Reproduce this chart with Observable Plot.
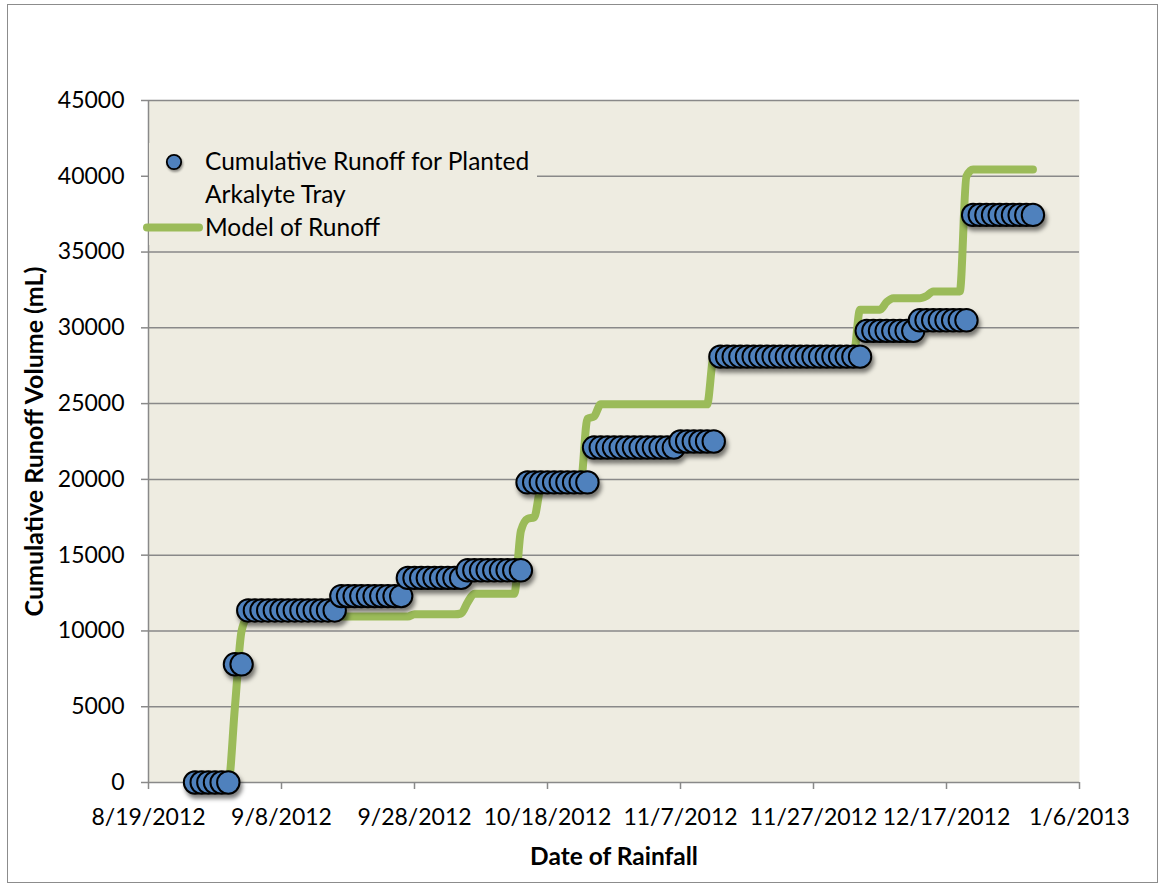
<!DOCTYPE html>
<html><head><meta charset="utf-8">
<script src="https://cdn.jsdelivr.net/npm/d3@7"></script>
<script src="https://cdn.jsdelivr.net/npm/@observablehq/plot@0.6"></script>
<style>
body{margin:0;background:#fff;}
#wrap{position:relative;width:1160px;height:888px;overflow:hidden;background:#fff;}
#border{position:absolute;left:7px;top:4px;width:1151px;height:879px;border:1.5px solid #8c8c8c;box-sizing:border-box;}
#chart{position:absolute;left:0;top:0;width:1160px;height:888px;}
#chart svg{position:absolute;left:0;top:0;}
</style></head><body>
<div id="wrap"><div id="border"></div><div id="chart"></div></div>
<script>
const dates = [
"2012-08-26","2012-08-27","2012-08-28","2012-08-29","2012-08-30","2012-08-31",
"2012-09-01","2012-09-02","2012-09-03","2012-09-04","2012-09-05","2012-09-06","2012-09-07","2012-09-08","2012-09-09","2012-09-10",
"2012-09-11","2012-09-12","2012-09-13","2012-09-14","2012-09-15","2012-09-16","2012-09-17","2012-09-18","2012-09-19","2012-09-20",
"2012-09-21","2012-09-22","2012-09-23","2012-09-24","2012-09-25","2012-09-26","2012-09-27","2012-09-28","2012-09-29","2012-09-30",
"2012-10-01","2012-10-02","2012-10-03","2012-10-04","2012-10-05","2012-10-06","2012-10-07","2012-10-08","2012-10-09","2012-10-10",
"2012-10-11","2012-10-12","2012-10-13","2012-10-14","2012-10-15","2012-10-16","2012-10-17","2012-10-18","2012-10-19","2012-10-20",
"2012-10-21","2012-10-22","2012-10-23","2012-10-24","2012-10-25","2012-10-26","2012-10-27","2012-10-28","2012-10-29","2012-10-30","2012-10-31",
"2012-11-01","2012-11-02","2012-11-03","2012-11-04","2012-11-05","2012-11-06","2012-11-07","2012-11-08","2012-11-09","2012-11-10",
"2012-11-11","2012-11-12","2012-11-13","2012-11-14","2012-11-15","2012-11-16","2012-11-17","2012-11-18","2012-11-19","2012-11-20",
"2012-11-21","2012-11-22","2012-11-23","2012-11-24","2012-11-25","2012-11-26","2012-11-27","2012-11-28","2012-11-29","2012-11-30",
"2012-12-01","2012-12-02","2012-12-03","2012-12-04","2012-12-05","2012-12-06","2012-12-07","2012-12-08","2012-12-09","2012-12-10",
"2012-12-11","2012-12-12","2012-12-13","2012-12-14","2012-12-15","2012-12-16","2012-12-17","2012-12-18","2012-12-19","2012-12-20",
"2012-12-21","2012-12-22","2012-12-23","2012-12-24","2012-12-25","2012-12-26","2012-12-27","2012-12-28","2012-12-29","2012-12-30"
];
const runoff = [
0,0,0,0,0,0,
7800,7800,
11350,11350,11350,11350,11350,11350,11350,11350,11350,11350,11350,11350,11350,11350,
12300,12300,12300,12300,12300,12300,12300,12300,12300,12300,
13500,13500,13500,13500,13500,13500,13500,13500,13500,
14000,14000,14000,14000,14000,14000,14000,14000,14000,
19800,19800,19800,19800,19800,19800,19800,19800,19800,19800,
22100,22100,22100,22100,22100,22100,22100,22100,22100,22100,22100,22100,22100,
22500,22500,22500,22500,22500,22500,
28100,28100,28100,28100,28100,28100,28100,28100,28100,28100,28100,28100,28100,28100,28100,28100,28100,28100,28100,28100,28100,28100,
29800,29800,29800,29800,29800,29800,29800,29800,
30500,30500,30500,30500,30500,30500,30500,30500,
37450,37450,37450,37450,37450,37450,37450,37450,37450,37450
];
const model = [
0,0,0,0,0,0,
5000,10000,
10950,10950,10950,10950,10950,10950,10950,10950,10950,10950,10950,10950,10950,10950,10950,10950,10950,10950,10950,10950,10950,10950,10950,10950,10950,
11100,11100,11100,11100,11100,11100,11100,
11150,11900,
12450,12450,12450,12450,12450,12450,12450,
16600,17400,17500,19500,
19850,19850,19850,19850,19850,19850,
24000,24150,
24950,24950,24950,24950,24950,24950,24950,24950,24950,24950,24950,24950,24950,24950,24950,24950,24950,
28100,28100,28100,28100,28100,28100,28100,28100,28100,28100,28100,28100,28100,28100,28100,28100,28100,28100,28100,28100,28100,28100,
31200,31200,31200,31200,
31700,
31950,31950,31950,31950,31950,
32100,
32400,32400,32400,32400,32400,
40000,
40450,40450,40450,40450,40450,40450,40450,40450,40450,40450
];
const xTicks = ["2012-08-19","2012-09-08","2012-09-28","2012-10-18","2012-11-07","2012-11-27","2012-12-17","2013-01-06"];
const yTicks = [0,5000,10000,15000,20000,25000,30000,35000,40000,45000];
const legendLines = ["Cumulative Runoff for Planted", "Arkalyte Tray", "Model of Runoff"];
const xTitle = "Date of Rainfall";
const yTitle = "Cumulative Runoff Volume (mL)";

const rows = dates.map((d, i) => ({date: new Date(d), runoff: runoff[i], model: model[i]}));
const tickDates = xTicks.map(d => new Date(d));
const fmtDate = d => `${d.getUTCMonth() + 1}/${d.getUTCDate()}/${d.getUTCFullYear()}`;
const grid = "#898989";
const FONT = "Lato, sans-serif";

const chart = Plot.plot({
  width: 1160, height: 888,
  marginLeft: 148, marginRight: 81, marginTop: 100, marginBottom: 106,
  style: {fontFamily: FONT, fontSize: "23px", color: "#000", background: "transparent", overflow: "visible"},
  x: {type: "utc", domain: [tickDates[0], tickDates[tickDates.length - 1]]},
  y: {domain: [0, 45000]},
  marks: [
    Plot.frame({fill: "#EEECE1", stroke: "none"}),
    Plot.ruleY(yTicks, {stroke: grid, strokeWidth: 1.5}),
    Plot.ruleX([tickDates[0]], {stroke: grid, strokeWidth: 1.5}),
    Plot.axisY({ticks: yTicks, tickFormat: d3.format("d"), tickSize: 7, tickPadding: 17, stroke: grid, strokeWidth: 1.5, label: null, fontSize: 23}),
    Plot.axisX({ticks: tickDates, tickFormat: fmtDate, tickSize: 7, tickPadding: 19, stroke: grid, strokeWidth: 1.5, label: null, fontSize: 23}),
    Plot.line(rows, {x: "date", y: "model", stroke: "#9BBB59", strokeWidth: 8, curve: "monotone-x", strokeLinecap: "round", strokeLinejoin: "round"}),
    Plot.dot(rows, {x: "date", y: "runoff", r: 11.2, fill: "#4F81BD", stroke: "#000", strokeWidth: 2}),
    Plot.text([xTitle], {frameAnchor: "bottom", lineAnchor: "middle", dy: 75, fontWeight: "bold", fontSize: 24.5}),
    Plot.text([yTitle], {frameAnchor: "left", textAnchor: "middle", lineAnchor: "middle", dx: -114, rotate: -90, fontWeight: "bold", fontSize: 25})
  ]
});
document.getElementById("chart").appendChild(chart);
const dotG = chart.querySelector('g[aria-label="dot"]');
if (dotG) dotG.setAttribute("style", "filter: drop-shadow(2px 4px 2px rgba(0,0,0,0.5))");

// legend inside the plot area, on a plot-coloured background
const svg = d3.select(chart);
const lg = svg.append("g").attr("aria-label", "legend").attr("text-anchor", "start");
lg.append("rect").attr("x", 149).attr("y", 143).attr("width", 537 - 149).attr("height", 102).attr("fill", "#EEECE1");
lg.append("line").attr("x1", 147).attr("x2", 199).attr("y1", 227.5).attr("y2", 227.5)
  .attr("stroke", "#9BBB59").attr("stroke-width", 8).attr("stroke-linecap", "round");
lg.append("circle").attr("cx", 174).attr("cy", 162).attr("r", 7.2)
  .attr("fill", "#4F81BD").attr("stroke", "#000").attr("stroke-width", 1.8)
  .attr("style", "filter: drop-shadow(1px 2px 1px rgba(0,0,0,0.4))");
[[legendLines[0], 169.5], [legendLines[1], 202.5], [legendLines[2], 236]].forEach(([t, y]) => {
  lg.append("text").attr("x", 205).attr("y", y).attr("text-anchor", "start")
    .attr("font-family", FONT).attr("font-size", 24.5).attr("fill", "#000").text(t);
});
</script>
</body></html>
